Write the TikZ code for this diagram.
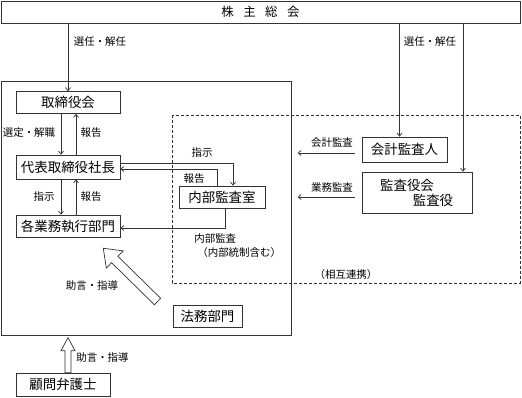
\documentclass[tikz,border=0pt]{standalone}
\usepackage{fontspec}
\setmainfont{Noto Sans CJK JP}
\usetikzlibrary{arrows.meta}
\usetikzlibrary{calc}

\tikzset{
  box/.style={draw, inner sep=0pt, font=\fontsize{13.5}{15}\selectfont},
  lbl/.style={inner sep=0pt, font=\fontsize{10.5}{12}\selectfont},
  arr/.style={-{Straight Barb[length=3bp,width=5bp]}},
  hollow/.style={draw, fill=white, line join=miter},
}

\begin{document}
\begin{tikzpicture}[x=1bp,y=-1bp, line width=0.7bp, draw=black!80]

\useasboundingbox (0,0) rectangle (522,397);

%frames:
\draw (1,81) rectangle (291,335);
\draw[dash pattern=on 3bp off 2bp] (172,115) rectangle (520,283);

%boxes:
\node[box, minimum width=519bp, minimum height=22bp, font=\fontsize{12.5}{14}\selectfont] (sh) at (260.5,12) {株\kern9.5bp 主\kern9.5bp 総\kern9.5bp 会};
\node[box, minimum width=104bp, minimum height=22bp] (board) at (68,102.5) {取締役会};
\node[box, minimum width=104bp, minimum height=24bp] (pres) at (68,167) {代表取締役社長};
\node[box, minimum width=104bp, minimum height=22bp] (dept) at (68,226) {各業務執行部門};
\node[box, minimum width=86bp, minimum height=22bp] (audit) at (222,197) {内部監査室};
\node[box, minimum width=85bp, minimum height=25bp] (kaikei) at (404.5,149.5) {会計監査人};
\node[box, minimum width=110bp, minimum height=41bp] (kansa) at (417,192.5) {};
\node[box, draw=none] (kansa1) at ($(kansa.center)+(-10,-7.5)$) {監査役会};
\node[box, draw=none] (kansa2) at ($(kansa.center)+(16,7.5)$) {監査役};
\node[box, minimum width=69bp, minimum height=22bp] (legal) at (207.5,316) {法務部門};
\node[box, minimum width=94bp, minimum height=23bp] (lawyer) at (63,384.5) {顧問弁護士};

%from the shareholders
\coordinate (kk) at ([xshift=-5bp]kaikei.north);
\coordinate (ks) at ([xshift=46bp]kansa.north);
\draw[arr] (sh.south -| board.north) -- (board.north);
\draw[arr] (sh.south -| kk) -- (kk);
\draw[arr] (sh.south -| ks) -- (ks);
\node[lbl] (sel1) at (100,42) {選任・解任};
\node[lbl] (sel2) at (430,42) {選任・解任};

%board, president, departments
\draw[arr] ([xshift=-7bp]board.south) -- ([xshift=-7bp]pres.north);
\draw[arr] ([xshift=8bp]pres.north) -- ([xshift=8bp]board.south);
\draw[arr] ([xshift=-7bp]pres.south) -- ([xshift=-7bp]dept.north);
\draw[arr] ([xshift=8bp]dept.north) -- ([xshift=8bp]pres.south);
\node[lbl] (dismiss) at (29,133) {選定・解職};
\node[lbl] (rep1) at (91,133) {報告};
\node[lbl] (ord1) at (44,197) {指示};
\node[lbl] (rep2) at (91,197) {報告};

%internal audit
\draw[arr] ([yshift=4bp]pres.east) -| ([xshift=11bp]audit.north);
\draw[arr] ([xshift=-5bp]audit.north) |- ([yshift=-2bp]pres.east);
\draw[arr] ([xshift=3bp]audit.south) |- ([yshift=-2bp]dept.east);
\node[lbl] (ord2) at (202,153) {指示};
\node[lbl] (rep3) at (194,179) {報告};
\node[lbl, anchor=west] (ia1) at (194,239) {内部監査};
\node[lbl, anchor=west] (ia2) at (197,253) {（内部統制含む）};

%auditors
\coordinate (kka) at ($(kaikei.west)+(-7,3.5)$);
\coordinate (kkb) at ($(kaikei.west)+(-64,3.5)$);
\coordinate (ksa) at ($(kansa.west)+(-7,4.5)$);
\coordinate (ksb) at ($(kansa.west)+(-64,4.5)$);
\draw[arr] (kka) -- (kkb);
\draw[arr] (ksa) -- (ksb);
\node[lbl] (acc) at (332,143) {会計監査};
\node[lbl] (ops) at (332,188) {業務監査};
\node[lbl] (coop) at (346,275) {（相互連携）};

%advice arrows
\begin{scope}[shift={(157.5,301.5)}, rotate=135.5]
\draw[hollow] (0,-4.5) -- (60,-4.5) -- (60,-12) -- (76,0) -- (60,12) -- (60,4.5) -- (0,4.5) -- cycle;
\end{scope}
\node[lbl] (adv1) at (92,286) {助言・指導};
\begin{scope}[shift={([xshift=5bp]lawyer.north)}, rotate=90]
\draw[hollow] (0,-3) -- (22,-3) -- (22,-7) -- (35,0) -- (22,7) -- (22,3) -- (0,3) -- cycle;
\end{scope}
\node[lbl, anchor=west] (adv2) at (76,358) {助言・指導};

\end{tikzpicture}
\end{document}
